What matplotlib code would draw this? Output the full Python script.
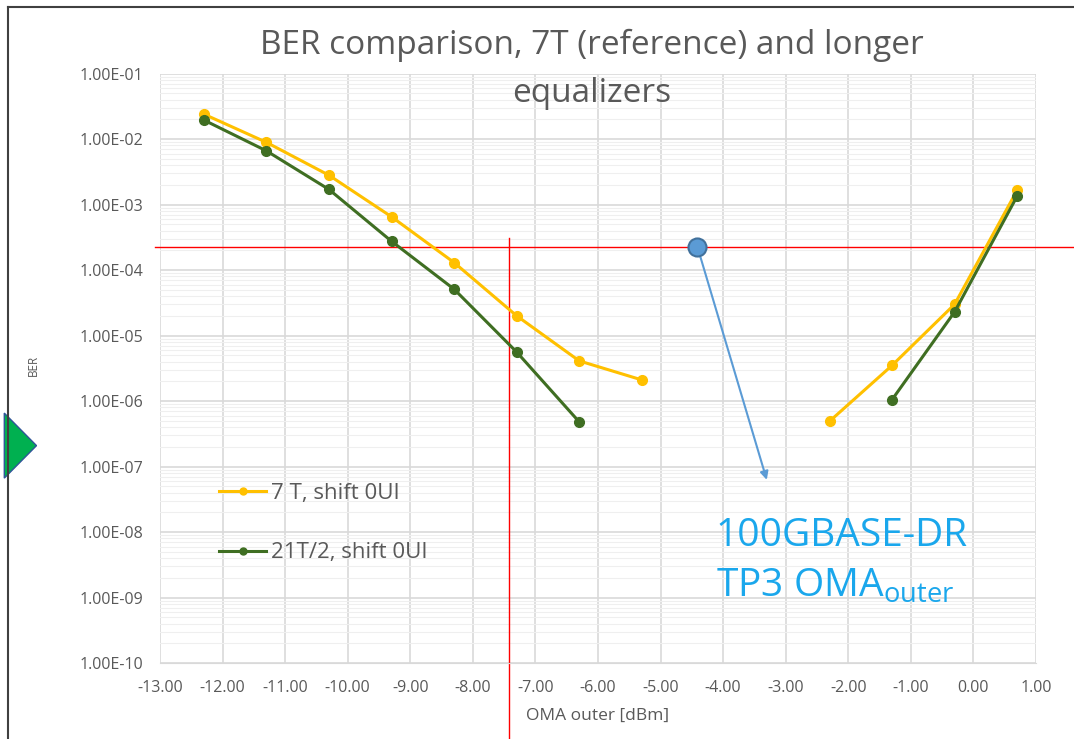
import math

import matplotlib.pyplot as plt
from matplotlib.patches import Polygon, FancyArrowPatch
from matplotlib.ticker import FixedLocator, LogLocator, NullFormatter

plt.rcParams['font.family'] = ['Open Sans', 'DejaVu Sans']

# data
oma_7t = [-12.3, -11.3, -10.3, -9.3, -8.3, -7.3, -6.3, -5.3]
ber_7t = [2.4e-2, 8.9e-3, 2.8e-3, 6.5e-4, 1.3e-4, 2.0e-5, 4.1e-6, 2.1e-6]
oma_7t_r = [-2.3, -1.3, -0.3, 0.7]
ber_7t_r = [4.9e-7, 3.5e-6, 3.0e-5, 1.66e-3]

oma_21t = [-12.3, -11.3, -10.3, -9.3, -8.3, -7.3, -6.3]
ber_21t = [1.95e-2, 6.6e-3, 1.7e-3, 2.75e-4, 5.1e-5, 5.6e-6, 4.8e-7]
oma_21t_r = [-1.3, -0.3, 0.7]
ber_21t_r = [1.05e-6, 2.3e-5, 1.35e-3]

ref_ber = 2.24e-4
ref_oma = -7.42
spec_oma = -4.41
arrow_end = (-3.29, 5.7e-8)

x_ticks = list(range(-13, 2))
y_ticks = [10.0 ** e for e in range(-10, 0)]

YELLOW = '#FFC000'
GREEN = '#3F6E22'
GRAY = '#595959'

fig = plt.figure(figsize=(10.74, 7.39), dpi=100)
ax = fig.add_axes([0.149, 0.1028, 0.8156, 0.7977])

ax.set_yscale('log')
ax.set_xlim(-13, 1)
ax.set_ylim(1e-10, 1e-1)

ax.xaxis.set_major_locator(FixedLocator(x_ticks))
ax.set_xticklabels([f'{v:.2f}' for v in x_ticks])
ax.yaxis.set_major_locator(FixedLocator(y_ticks))
ax.set_yticklabels(['1.00E-%02d' % round(-math.log10(v)) for v in y_ticks])
ax.yaxis.set_minor_locator(LogLocator(base=10, subs=range(2, 10), numticks=100))
ax.yaxis.set_minor_formatter(NullFormatter())

ax.grid(which='major', color='#d9d9d9', lw=1.2)
ax.grid(which='minor', axis='y', color='#efefef', lw=0.8)
ax.set_axisbelow(True)
ax.tick_params(which='both', length=0, labelsize=11.5, colors=GRAY, pad=12)
for side in ['top', 'right', 'left']:
    ax.spines[side].set_visible(False)
ax.spines['bottom'].set_color('#d9d9d9')

# red reference lines
ax.plot([-13.08, 1.6], [ref_ber, ref_ber], color='red', lw=1.0, clip_on=False, zorder=2)
ax.plot([ref_oma, ref_oma], [3.1e-4, 6.9e-12], color='red', lw=1.0, clip_on=False, zorder=2)

kw = dict(lw=2.2, marker='o', ms=7, zorder=3)
ax.plot(oma_7t, ber_7t, color=YELLOW, label='7 T, shift 0UI', **kw)
ax.plot(oma_7t_r, ber_7t_r, color=YELLOW, **kw)
ax.plot(oma_21t, ber_21t, color=GREEN, label='21T/2, shift 0UI', **kw)
ax.plot(oma_21t_r, ber_21t_r, color=GREEN, **kw)

# spec marker and arrow
ax.add_patch(FancyArrowPatch((spec_oma, ref_ber), arrow_end, arrowstyle='-|>',
                             mutation_scale=12, color='#5B9BD5', lw=1.5, zorder=4))
ax.plot([spec_oma], [ref_ber], 'o', ms=13, mfc='#5B9BD5', mec='#41719C', mew=1.5, zorder=5)

ax.text(-4.12, 3.6e-9, '100GBASE-DR\nTP3 OMA$_{\\mathregular{outer}}$', color='#1AA7EC',
        fontsize=28, va='center', ha='left', linespacing=1.42)

leg = ax.legend(loc='upper left', bbox_to_anchor=(0.045, 0.34), frameon=False,
                fontsize=16, labelspacing=1.75, handlelength=2.1, handletextpad=0.2,
                labelcolor=GRAY)
for h in leg.legend_handles:
    h.set_markersize(5)

ax.set_xlabel('OMA outer [dBm]', fontsize=12.5, color=GRAY, labelpad=9)
ax.set_ylabel('BER', fontsize=8.5, color=GRAY)
ax.yaxis.set_label_coords(-0.137, 0.505)

fig.text(0.551, 0.939, 'BER comparison, 7T (reference) and longer', ha='center', va='center',
         fontsize=24, color=GRAY)
fig.text(0.551, 0.874, 'equalizers', ha='center', va='center', fontsize=24, color=GRAY)

# chart frame and slide triangle
fig.add_artist(plt.Line2D([0.0075, 0.0075], [0, 0.99], transform=fig.transFigure,
                          color='#404040', lw=1.5))
fig.add_artist(plt.Line2D([0.0075, 1], [0.99, 0.99], transform=fig.transFigure,
                          color='#404040', lw=1.5))
fig.add_artist(Polygon([[0.004, 0.441], [0.034, 0.397], [0.004, 0.353]], closed=True,
                       transform=fig.transFigure, facecolor='#00B050', edgecolor='#2F5597', lw=1))

fig.savefig('out.png', dpi=100)
